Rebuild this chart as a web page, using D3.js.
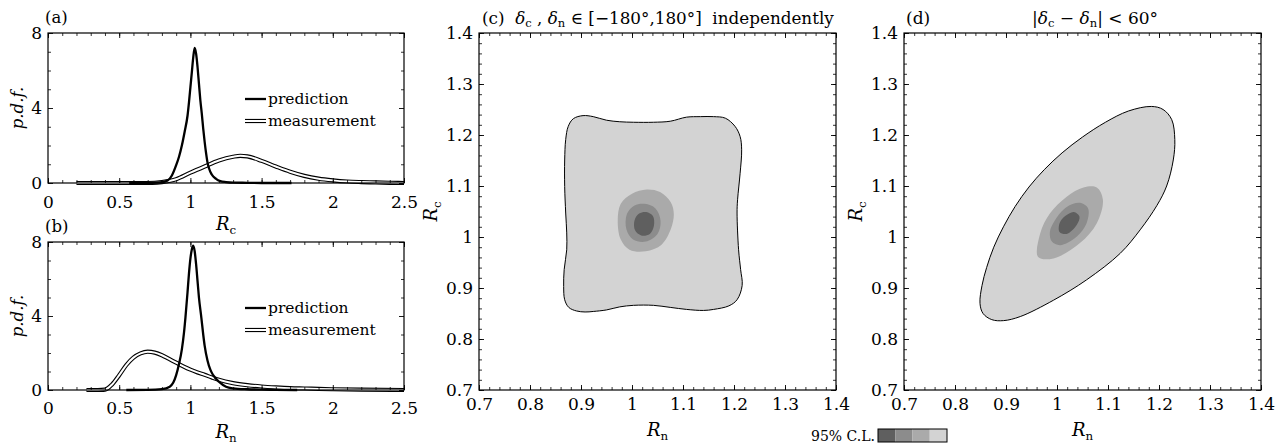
<!DOCTYPE html>
<html>
<head>
<meta charset="utf-8">
<script src="https://cdn.jsdelivr.net/npm/d3@7"></script>
<style>
  body { margin: 0; background: #fff; }
  svg { display: block; font-family: "DejaVu Serif", "Liberation Serif", serif; }
</style>
</head>
<body>
<svg id="chart" width="1286" height="445"></svg>
<script>
// ---- data ----
// (a) pdf of R_c
const predA = [[0.57,0],[0.7,0.01],[0.8,0.04],[0.84,0.13],[0.87,0.4],[0.9,0.95],[0.92,1.4],[0.94,2.0],[0.96,2.75],[0.98,3.6],[0.99,4.3],[1.0,5.1],[1.01,5.9],[1.02,6.7],[1.03,7.2],[1.04,6.9],[1.05,6.2],[1.06,5.3],[1.07,4.4],[1.08,3.7],[1.09,2.9],[1.1,2.2],[1.11,1.6],[1.12,1.1],[1.13,0.8],[1.15,0.45],[1.18,0.22],[1.21,0.1],[1.25,0.05],[1.3,0.02],[1.4,0.01],[1.5,0],[1.71,0]];
const measA = [[0.2,0],[0.7,0],[0.8,0.05],[0.9,0.2],[1.0,0.55],[1.1,0.88],[1.2,1.2],[1.3,1.4],[1.35,1.45],[1.4,1.42],[1.5,1.18],[1.6,0.88],[1.7,0.6],[1.8,0.38],[1.9,0.23],[2.0,0.14],[2.1,0.08],[2.2,0.05],[2.3,0.03],[2.4,0.01],[2.5,0]];
// (b) pdf of R_n
const predB = [[0.55,0],[0.7,0.01],[0.8,0.05],[0.855,0.18],[0.88,0.4],[0.9,0.8],[0.92,1.4],[0.94,2.2],[0.955,3.1],[0.965,3.9],[0.98,5.3],[0.99,6.3],[1.0,7.1],[1.01,7.6],[1.02,7.8],[1.03,7.5],[1.04,6.8],[1.05,5.9],[1.06,5.0],[1.077,3.9],[1.09,3.0],[1.1,2.4],[1.12,1.6],[1.14,1.1],[1.16,0.8],[1.2,0.45],[1.25,0.18],[1.3,0.09],[1.4,0.04],[1.5,0.02],[1.6,0.01],[1.75,0]];
const measB = [[0.27,0],[0.35,0],[0.4,0.02],[0.45,0.3],[0.5,0.8],[0.55,1.35],[0.6,1.75],[0.65,1.98],[0.7,2.07],[0.75,2.02],[0.8,1.88],[0.85,1.68],[0.9,1.48],[0.95,1.28],[1.0,1.1],[1.05,0.95],[1.1,0.82],[1.15,0.68],[1.2,0.55],[1.3,0.37],[1.4,0.26],[1.5,0.19],[1.6,0.14],[1.7,0.1],[1.8,0.08],[1.9,0.06],[2.0,0.04],[2.2,0.02],[2.5,0]];

// (c) contour regions in the (R_n, R_c) plane, outermost first
const contC95 = [[0.875,1.217],[0.885,1.232],[0.904,1.238],[0.924,1.236],[0.950,1.229],[0.976,1.226],[1.003,1.225],[1.042,1.225],[1.075,1.227],[1.107,1.235],[1.134,1.236],[1.160,1.236],[1.183,1.233],[1.202,1.217],[1.212,1.197],[1.215,1.171],[1.212,1.125],[1.207,1.073],[1.206,1.047],[1.209,0.975],[1.213,0.936],[1.216,0.905],[1.206,0.877],[1.190,0.865],[1.160,0.858],[1.140,0.856],[1.107,0.858],[1.075,0.862],[1.042,0.866],[1.003,0.866],[0.976,0.863],[0.950,0.857],[0.924,0.854],[0.908,0.853],[0.891,0.855],[0.876,0.862],[0.868,0.877],[0.866,0.903],[0.867,0.936],[0.872,0.975],[0.872,1.008],[0.870,1.047],[0.868,1.099],[0.868,1.151],[0.870,1.191]];
const contC3 = [[1.029,1.093],[1.055,1.088],[1.076,1.068],[1.082,1.045],[1.076,1.015],[1.058,0.985],[1.027,0.972],[0.995,0.975],[0.978,0.995],[0.972,1.032],[0.978,1.065],[1.000,1.085]];
const contC2 = [[1.025,1.065],[1.046,1.056],[1.056,1.032],[1.050,1.006],[1.027,0.991],[1.002,0.995],[0.989,1.015],[0.990,1.045],[1.005,1.062]];
const contC1 = [[1.028,1.049],[1.041,1.041],[1.043,1.022],[1.035,1.006],[1.018,1.003],[1.006,1.013],[1.005,1.033],[1.014,1.046]];

// (d) contour regions
const contD95 = [[0.849,0.870],[0.855,0.850],[0.872,0.838],[0.895,0.836],[0.928,0.844],[0.993,0.876],[1.058,0.916],[1.124,0.968],[1.163,1.014],[1.196,1.062],[1.215,1.100],[1.228,1.151],[1.231,1.191],[1.225,1.230],[1.208,1.250],[1.185,1.256],[1.140,1.247],[1.095,1.225],[1.050,1.196],[1.010,1.165],[0.975,1.132],[0.945,1.098],[0.918,1.060],[0.895,1.020],[0.876,0.980],[0.862,0.940],[0.853,0.905]];
const contD3 = [[0.963,0.961],[0.993,0.958],[1.045,0.988],[1.078,1.027],[1.090,1.073],[1.078,1.097],[1.052,1.097],[1.019,1.079],[0.986,1.046],[0.967,1.007]];
const contD2 = [[0.990,0.991],[1.006,0.984],[1.039,1.001],[1.058,1.027],[1.061,1.056],[1.045,1.067],[1.019,1.059],[0.996,1.033],[0.986,1.010]];
const contD1 = [[1.005,1.010],[1.019,1.006],[1.039,1.024],[1.044,1.040],[1.033,1.049],[1.016,1.041],[1.005,1.027]];

// contour shades, darkest (innermost) first
const clColors = ["#5f5f5f", "#8c8c8c", "#aaaaaa", "#d3d3d3"];

// ticks
const pdfXMajor = [0, 0.5, 1, 1.5, 2, 2.5];
const pdfXLabels = ["0", "0.5", "1", "1.5", "2", "2.5"];
const pdfYMajor = [0, 4, 8];
const pdfYMinor = [1, 2, 3, 5, 6, 7];
const rMajor = [0.7, 0.8, 0.9, 1.0, 1.1, 1.2, 1.3, 1.4];
const rLabels = ["0.7", "0.8", "0.9", "1", "1.1", "1.2", "1.3", "1.4"];

// ---- drawing ----
const svg = d3.select("#chart");
const TICK_FONT = 17;

const panels = {
  a: { x0: 48, x1: 404, y0: 33, y1: 183 },
  b: { x0: 48, x1: 404, y0: 242, y1: 390 },
  c: { x0: 479, x1: 836, y0: 33, y1: 390 },
  d: { x0: 904, x1: 1261, y0: 33, y1: 390 }
};

function range(a, b, step) {
  const out = [];
  const n = Math.round((b - a) / step);
  for (let i = 0; i <= n; i++) out.push(+(a + i * step).toFixed(4));
  return out;
}

function frame(p, xs, ys, xMaj, xLab, xMin, yMaj, yLab, yMin, xPad) {
  const g = svg.append("g");
  const sides = [
    { ax: d3.axisBottom(xs), t: `translate(0,${p.y1})`, maj: xMaj, min: xMin, lab: xLab, pad: xPad },
    { ax: d3.axisTop(xs), t: `translate(0,${p.y0})`, maj: xMaj, min: xMin },
    { ax: d3.axisLeft(ys), t: `translate(${p.x0},0)`, maj: yMaj, min: yMin, lab: yLab, pad: 6 },
    { ax: d3.axisRight(ys), t: `translate(${p.x1},0)`, maj: yMaj, min: yMin }
  ];
  sides.forEach(s => {
    g.append("g").attr("transform", s.t)
      .call(s.ax.tickValues(s.min).tickSize(-3).tickFormat(""))
      .call(a => a.select(".domain").remove())
      .selectAll("line").attr("stroke", "#000").attr("stroke-width", 0.8);
    const m = g.append("g").attr("transform", s.t)
      .call(s.ax.tickValues(s.maj).tickSize(-5).tickPadding(s.pad || 0)
        .tickFormat((d, i) => s.lab ? s.lab[i] : ""))
      .call(a => a.select(".domain").remove());
    m.selectAll("line").attr("stroke", "#000").attr("stroke-width", 0.9);
    m.attr("font-family", null);
    m.selectAll("text").attr("font-size", TICK_FONT).attr("fill", "#000");
  });
  g.append("rect")
    .attr("x", p.x0).attr("y", p.y0)
    .attr("width", p.x1 - p.x0).attr("height", p.y1 - p.y0)
    .attr("fill", "none").attr("stroke", "#000").attr("stroke-width", 1.2);
}

function subLabel(x, y, main, sub, rotate, size) {
  const t = svg.append("text")
    .attr("transform", `translate(${x},${y})` + (rotate ? " rotate(-90)" : ""))
    .attr("text-anchor", "middle")
    .attr("font-size", size || 18);
  t.append("tspan").attr("font-style", "italic").text(main);
  t.append("tspan").attr("font-size", (size || 18) * 0.66).attr("dy", 4).text(sub);
}

function pdfPanel(p, pred, meas, tag, legY, xPad) {
  const xs = d3.scaleLinear().domain([0, 2.5]).range([p.x0, p.x1]);
  const ys = d3.scaleLinear().domain([0, 8]).range([p.y1, p.y0]);
  const id = "clip" + tag;
  svg.append("clipPath").attr("id", id).append("rect")
    .attr("x", p.x0).attr("y", p.y0 - 2).attr("width", p.x1 - p.x0).attr("height", p.y1 - p.y0 + 4);
  const line = d3.line().x(d => xs(d[0])).y(d => ys(d[1])).curve(d3.curveMonotoneX);
  const g = svg.append("g").attr("clip-path", `url(#${id})`);
  g.append("path").attr("d", line(meas)).attr("fill", "none")
    .attr("stroke", "#000").attr("stroke-width", 4.2);
  g.append("path").attr("d", line(meas)).attr("fill", "none")
    .attr("stroke", "#fff").attr("stroke-width", 2);
  g.append("path").attr("d", line(pred)).attr("fill", "none")
    .attr("stroke", "#000").attr("stroke-width", 2.3);

  frame(p, xs, ys, pdfXMajor, pdfXLabels, range(0, 2.5, 0.1), pdfYMajor, ["0", "4", "8"], pdfYMinor, xPad);

  // legend
  const lg = svg.append("g");
  lg.append("line").attr("x1", 245).attr("x2", 266).attr("y1", legY).attr("y2", legY)
    .attr("stroke", "#000").attr("stroke-width", 2.3);
  lg.append("text").attr("x", 268).attr("y", legY + 5).attr("font-size", 15.5).text("prediction");
  const my = legY + 22;
  lg.append("line").attr("x1", 245).attr("x2", 266).attr("y1", my).attr("y2", my)
    .attr("stroke", "#000").attr("stroke-width", 4.2);
  lg.append("line").attr("x1", 245).attr("x2", 266).attr("y1", my).attr("y2", my)
    .attr("stroke", "#fff").attr("stroke-width", 2);
  lg.append("text").attr("x", 268).attr("y", my + 5).attr("font-size", 15.5).text("measurement");

  svg.append("text").attr("x", 45).attr("y", p.y0 - 10).attr("font-size", 16.5).text(`(${tag})`);
  svg.append("text")
    .attr("transform", `translate(23,${(p.y0 + p.y1) / 2}) rotate(-90)`)
    .attr("text-anchor", "middle").attr("font-size", 16.5).attr("font-style", "italic")
    .text("p.d.f.");
}

function contourPanel(p, regions) {
  const xs = d3.scaleLinear().domain([0.7, 1.4]).range([p.x0, p.x1]);
  const ys = d3.scaleLinear().domain([0.7, 1.4]).range([p.y1, p.y0]);
  const shape = d3.line().x(d => xs(d[0])).y(d => ys(d[1])).curve(d3.curveCatmullRomClosed.alpha(0.5));
  // regions outermost first; colours are darkest first
  regions.forEach((r, i) => {
    svg.append("path").attr("d", shape(r))
      .attr("fill", clColors[regions.length - 1 - i])
      .attr("stroke", i === 0 ? "#000" : "none")
      .attr("stroke-width", 1);
  });
  frame(p, xs, ys, rMajor, rLabels, range(0.7, 1.4, 0.02), rMajor, rLabels, range(0.7, 1.4, 0.02), 8);
  subLabel((p.x0 + p.x1) / 2, 436, "R", "n", false);
  subLabel(p.x0 - 42, (p.y0 + p.y1) / 2, "R", "c", true);
}

pdfPanel(panels.a, predA, measA, "a", 99, 13);
pdfPanel(panels.b, predB, measB, "b", 308, 12);
subLabel((panels.a.x0 + panels.a.x1) / 2, 230, "R", "c", false);
subLabel((panels.b.x0 + panels.b.x1) / 2, 438, "R", "n", false);

contourPanel(panels.c, [contC95, contC3, contC2, contC1]);
contourPanel(panels.d, [contD95, contD3, contD2, contD1]);

// titles of (c) and (d)
const tc = svg.append("text").attr("x", 482).attr("y", 24).attr("font-size", 16.8);
tc.append("tspan").text("(c)\u00a0\u00a0");
tc.append("tspan").attr("font-style", "italic").text("\u03b4");
tc.append("tspan").attr("font-size", 11.5).attr("dy", 3).text("c");
tc.append("tspan").attr("dy", -3).text("\u00a0,\u00a0");
tc.append("tspan").attr("font-style", "italic").text("\u03b4");
tc.append("tspan").attr("font-size", 11.5).attr("dy", 3).text("n");
tc.append("tspan").attr("dy", -3).text("\u00a0\u2208 [\u2212180\u00b0,180\u00b0]\u00a0\u00a0independently");

svg.append("text").attr("x", 906).attr("y", 24).attr("font-size", 17).text("(d)");
const td = svg.append("text").attr("x", 1095).attr("y", 24).attr("font-size", 17).attr("text-anchor", "middle");
td.append("tspan").text("|");
td.append("tspan").attr("font-style", "italic").text("\u03b4");
td.append("tspan").attr("font-size", 11.5).attr("dy", 3).text("c");
td.append("tspan").attr("dy", -3).text(" \u2212 ");
td.append("tspan").attr("font-style", "italic").text("\u03b4");
td.append("tspan").attr("font-size", 11.5).attr("dy", 3).text("n");
td.append("tspan").attr("dy", -3).text("| < 60\u00b0");

// confidence-level key
const key = svg.append("g");
key.append("text").attr("x", 875).attr("y", 441).attr("text-anchor", "end")
  .attr("font-size", 14).text("95% C.L.");
const kx = d3.scaleBand().domain(d3.range(clColors.length)).range([878, 947]);
key.selectAll("rect.k").data(clColors).join("rect")
  .attr("x", (d, i) => kx(i)).attr("y", 429)
  .attr("width", kx.bandwidth()).attr("height", 13).attr("fill", d => d);
key.append("rect").attr("x", 878).attr("y", 429).attr("width", 69).attr("height", 13)
  .attr("fill", "none").attr("stroke", "#000").attr("stroke-width", 1);
</script>
</body>
</html>
